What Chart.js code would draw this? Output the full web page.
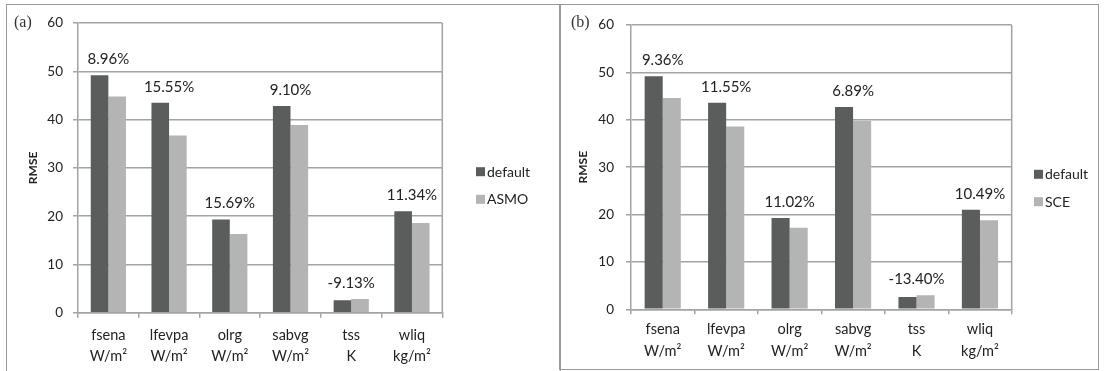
<!DOCTYPE html>
<html>
<head>
<meta charset="utf-8">
<title>RMSE of default and optimized parameters</title>
<script src="https://cdn.jsdelivr.net/npm/chart.js@4.4.1/dist/chart.umd.min.js"></script>
<style>
  html, body { margin: 0; padding: 0; background: #fff; width: 1108px; height: 371px; overflow: hidden; }
  .frame { position: absolute; box-sizing: border-box; border: 1.5px solid #9a9a9a; }
  canvas { position: absolute; }
  .tag { position: absolute; font-family: "Liberation Serif", "DejaVu Serif", serif; font-size: 16px; color: #333; line-height: 18px; }
</style>
</head>
<body>
<div class="frame" style="left:6px; top:4px; width:555px; height:400px;"></div>
<div class="frame" style="left:559px; top:4px; width:540px; height:366px;"></div>
<canvas id="chartA" width="553" height="366" style="left:7px; top:5px;"></canvas>
<canvas id="chartB" width="538" height="364" style="left:560px; top:5px;"></canvas>
<div class="tag" style="left:14px; top:13px;">(a)</div>
<div class="tag" style="left:571px; top:13px;">(b)</div>

<script>
// Output variables and their units (two-line category labels)
const variables = ['fsena', 'lfevpa', 'olrg', 'sabvg', 'tss', 'wliq'];
const units = ['W/m²', 'W/m²', 'W/m²', 'W/m²', 'K', 'kg/m²'];

// RMSE axis range
const rmseMin = 0;
const rmseMax = 60;
const rmseStep = 10;

// Panel (a): default vs ASMO-optimized parameters
const rmseDefaultA = [49.2, 43.5, 19.3, 42.8, 2.6, 21.0];
const rmseAsmo     = [44.8, 36.7, 16.3, 38.9, 2.85, 18.6];
const changeAsmo   = ['8.96%', '15.55%', '15.69%', '9.10%', '-9.13%', '11.34%'];

// Panel (b): default vs SCE-optimized parameters
const rmseDefaultB = [49.2, 43.6, 19.3, 42.7, 2.6, 21.0];
const rmseSce      = [44.6, 38.6, 17.2, 39.8, 2.95, 18.8];
const changeSce    = ['9.36%', '11.55%', '11.02%', '6.89%', '-13.40%', '10.49%'];

const DARK = '#5b5d5c';
const LIGHT = '#b4b4b4';
const GRID = '#a3a3a3';
const TEXT = '#222222';

Chart.defaults.font.family = 'Lato, "Open Sans", sans-serif';
Chart.defaults.color = TEXT;

// Vertical line closing the plot area on the right
const plotFrame = {
  id: 'plotFrame',
  beforeDatasetsDraw(chart) {
    const { ctx, chartArea: a } = chart;
    ctx.save();
    ctx.strokeStyle = GRID;
    ctx.lineWidth = 1.5;
    ctx.beginPath();
    ctx.moveTo(a.right, a.top);
    ctx.lineTo(a.right, a.bottom);
    ctx.stroke();
    ctx.restore();
  }
};

// Relative change written above each pair of bars
const changeLabels = {
  id: 'changeLabels',
  afterDatasetsDraw(chart, args, opts) {
    const { ctx } = chart;
    const xs = chart.scales.x, ys = chart.scales.y;
    ctx.save();
    ctx.font = '15px Lato, "Open Sans", sans-serif';
    ctx.fillStyle = TEXT;
    ctx.textAlign = 'center';
    ctx.textBaseline = 'middle';
    (opts.labels || []).forEach((text, i) => {
      const top = Math.max(...chart.data.datasets.map(d => d.data[i]));
      ctx.fillText(text, xs.getPixelForValue(i), ys.getPixelForValue(top) - opts.offset);
    });
    ctx.restore();
  }
};

// Legend drawn beside the plot area
const sideLegend = {
  id: 'sideLegend',
  afterDraw(chart, args, opts) {
    const { ctx } = chart;
    ctx.save();
    ctx.font = '14px Lato, "Open Sans", sans-serif';
    ctx.textAlign = 'left';
    ctx.textBaseline = 'middle';
    chart.data.datasets.forEach((ds, i) => {
      const cy = opts.y + i * opts.gap;
      ctx.fillStyle = ds.backgroundColor;
      ctx.fillRect(opts.x, cy - 4.5, 9, 9);
      ctx.fillStyle = TEXT;
      ctx.fillText(ds.label, opts.x + 11, cy + 0.5);
    });
    ctx.restore();
  }
};

function makePanel(id, defaults, tuned, tunedName, changes, cfg) {
  return new Chart(document.getElementById(id), {
    type: 'bar',
    data: {
      labels: variables.map((v, i) => [v, units[i]]),
      datasets: [
        { label: 'default', data: defaults, backgroundColor: DARK },
        { label: tunedName, data: tuned, backgroundColor: LIGHT }
      ]
    },
    options: {
      responsive: false,
      animation: false,
      devicePixelRatio: 1,
      events: [],
      layout: { padding: cfg.padding },
      datasets: { bar: { categoryPercentage: cfg.catPct, barPercentage: 1.0 } },
      plugins: {
        legend: { display: false },
        tooltip: { enabled: false },
        changeLabels: { labels: changes, offset: 16 },
        sideLegend: cfg.legend
      },
      scales: {
        x: {
          afterFit(scale) { scale.height = cfg.xHeight; },
          grid: { offset: true, drawOnChartArea: false, drawTicks: true, tickLength: 5, color: GRID, lineWidth: 1.5 },
          border: { display: true, color: GRID, width: 1.5 },
          ticks: { font: { size: 14.5, lineHeight: 1.45 }, color: TEXT, padding: cfg.xPad, maxRotation: 0, autoSkip: false }
        },
        y: {
          min: rmseMin,
          max: rmseMax,
          afterFit(scale) { scale.width = cfg.yWidth; },
          grid: { color: GRID, lineWidth: 1.5, drawTicks: true, tickLength: 5 },
          border: { display: true, color: GRID, width: 1.5 },
          ticks: { stepSize: rmseStep, font: { size: 13.5 }, color: TEXT, padding: cfg.yPad },
          title: { display: true, text: 'RMSE', font: { size: 12, weight: 'bold' }, color: TEXT, padding: { top: cfg.titlePad, bottom: 0 } }
        }
      }
    },
    plugins: [plotFrame, changeLabels, sideLegend]
  });
}

makePanel('chartA', rmseDefaultA, rmseAsmo, 'ASMO', changeAsmo, {
  padding: { left: 16, top: 17.7, right: 117.7, bottom: 2.3 },
  yWidth: 55, xHeight: 56, xPad: 7, yPad: 10, titlePad: 3, catPct: 0.58,
  legend: { x: 469, y: 166.7, gap: 27.6 }
});

makePanel('chartB', rmseDefaultB, rmseSce, 'SCE', changeSce, {
  padding: { left: 16, top: 17.7, right: 86.3, bottom: 3.7 },
  yWidth: 55, xHeight: 56, xPad: 5, yPad: 12, titlePad: 0, catPct: 0.57,
  legend: { x: 474, y: 169.3, gap: 27.4 }
});
</script>
</body>
</html>
